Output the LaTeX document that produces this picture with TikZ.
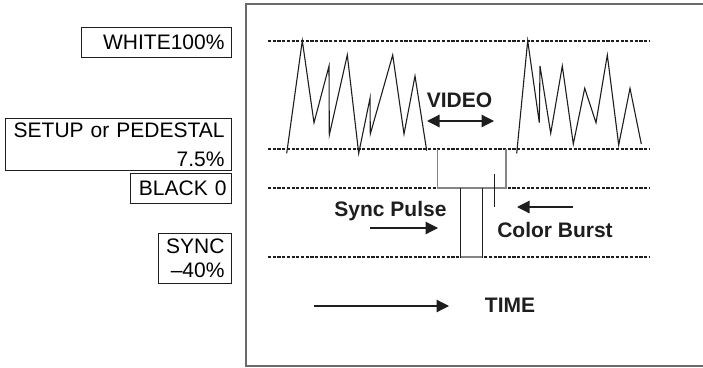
\documentclass[tikz,border=0pt]{standalone}
\usepackage{fontspec}
\setmainfont{Liberation Sans}
\usetikzlibrary{arrows.meta}
\definecolor{FrameGray}{HTML}{6A6A6A}
\definecolor{TraceGray}{HTML}{858585}
\definecolor{InkBlack}{HTML}{1E1E1E}

\tikzset{
  levelbox/.style={draw=InkBlack, line width=1pt, align=right, inner xsep=7pt, inner ysep=0pt,
    anchor=north east, font=\fontsize{21}{24}\selectfont},
  level/.style={line width=2.6pt, dash pattern=on 3.2pt off 1.5pt, InkBlack},
  trace/.style={line width=1.1pt, InkBlack, line join=miter},
  blank/.style={line width=1.4pt, TraceGray},
  tag/.style={font=\fontsize{21}{25}\selectfont\bfseries, anchor=base, inner sep=0pt, InkBlack},
  pointer/.style={-{Triangle[length=12.5pt,width=12.5pt]}, line width=1.2pt, InkBlack},
  twoway/.style={{Triangle[length=12.5pt,width=12.5pt]}-{Triangle[length=12.5pt,width=12.5pt]}, line width=1.2pt, InkBlack},
}

\begin{document}
\begin{tikzpicture}[x=1pt, y=-1pt]
    \useasboundingbox (0,0) rectangle (703,367);
    % frame round the waveform
    \draw[FrameGray, line width=2pt] (705,3.5) -- (245.5,3.5) -- (245.5,366) -- (705,366);

    % level labels
    \node[levelbox, text width=136pt, minimum height=30pt] (white) at (232,27) {WHITE100\%};
    \node[levelbox, text width=212pt, minimum height=52pt] (setup) at (232,118) {SETUP or PEDESTAL\\[5pt]7.5\%};
    \node[levelbox, inner xsep=5pt, text width=91pt, minimum height=30pt] (black) at (232,173) {BLACK\ 0};
    \node[levelbox, text width=59pt, minimum height=50pt] (sync) at (232,233) {SYNC\\\textendash40\%};

    % dotted levels: white, setup, black, sync tip
    \foreach \y in {41,149,188,257}
        \draw[level] (268,\y) -- (650,\y);

    % video of the first line
    \draw[trace] (286.7,153.3) -- (302.3,40.7) -- (314,122.7) -- (329,66) -- (329.3,135)
        -- (347.3,55) -- (358.7,153.3) -- (370,98.3) -- (370.3,134) -- (392.7,55)
        -- (404,134) -- (415,76) -- (426.7,150.7);
    % video of the next line
    \draw[trace] (516.7,153.3) -- (527.7,40.7) -- (539.3,122.7) -- (540,66) -- (550.7,133.3)
        -- (562.3,66) -- (573.3,144) -- (584.7,88.3) -- (596,122.7) -- (607.3,55)
        -- (618.7,145) -- (630,88.3) -- (641.3,144);

    % blanking and sync pulse
    \draw[blank] (437.7,149) -- (437.7,188) -- (506,188) -- (506,149);
    \draw[blank] (460.7,257) -- (482.7,257);
    \draw[trace] (460.7,188) -- (460.7,258);
    \draw[trace] (482.7,188) -- (482.7,258);
    \draw[trace] (494.3,174) -- (494.3,207);

    % labels and arrows
    \node[tag] (video) at (459.5,107.3) {VIDEO};
    \coordinate (videoL) at (427,121);
    \coordinate (videoR) at (494,121);
    \draw[twoway] (videoL) -- (videoR);

    \node[tag] (syncpulse) at (390.5,216.5) {Sync Pulse};
    \coordinate (syncA) at (370,228);
    \coordinate (syncB) at (438,228);
    \draw[pointer] (syncA) -- (syncB);

    \node[tag] (burst) at (555,237.3) {Color Burst};
    \coordinate (burstA) at (573,207);
    \coordinate (burstB) at (517,207);
    \draw[pointer] (burstA) -- (burstB);

    \node[tag] (time) at (510,312.3) {TIME};
    \coordinate (timeA) at (314,306);
    \coordinate (timeB) at (449,306);
    \draw[pointer] (timeA) -- (timeB);
\end{tikzpicture}
\end{document}
